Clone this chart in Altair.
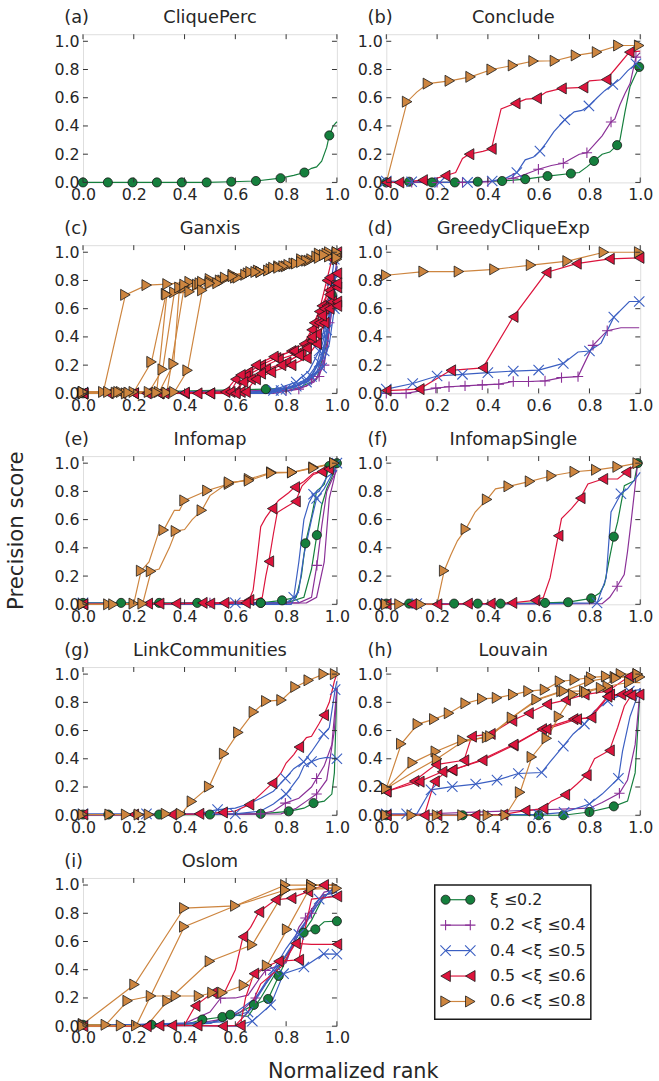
import altair as alt
import pandas as pd

FONT = "DejaVu Sans"
TXT = "#262626"
GROUPS = ["g", "p", "b", "r", "o"]
LABELS = ["ξ ≤0.2", "0.2 <ξ ≤0.4", "0.4 <ξ ≤0.5", "0.5 <ξ ≤0.6", "0.6 <ξ ≤0.8"]
COLORS = ["#157f3d", "#8a3097", "#3b5fc2", "#dc143c", "#cd853f"]
PLUS = "M-1,0H1M0,-1V1"
CROSS = "M-1,-1L1,1M-1,1L1,-1"
SHAPES = ["circle", PLUS, CROSS, "triangle-left", "triangle-right"]
TITLES = ["CliquePerc", "Conclude", "Ganxis", "GreedyCliqueExp", "Infomap",
          "InfomapSingle", "LinkCommunities", "Louvain", "Oslom"]
LETTERS = ["(a)", "(b)", "(c)", "(d)", "(e)", "(f)", "(g)", "(h)", "(i)"]
TICKS = [0.0, 0.2, 0.4, 0.6, 0.8, 1.0]

# each series: (group, [(x, y, marker?), ...])
PANEL_A = [
    ("g", [(0, 0, 1), (0.098, 0, 1), (0.195, 0, 1), (0.291, 0, 1), (0.389, 0, 1), (0.487, 0, 1),
           (0.584, 0.005, 1), (0.681, 0.01, 1), (0.778, 0.03, 1), (0.83, 0.05, 0), (0.872, 0.07, 1),
           (0.9, 0.1, 0), (0.92, 0.11, 0), (0.94, 0.15, 0), (0.96, 0.25, 0), (0.97, 0.333, 1),
           (0.985, 0.4, 0), (1.0, 0.43, 0)]),
]

PANEL_B = [
    ("g", [(0, 0, 1), (0.09, 0.005, 1), (0.18, 0, 1), (0.27, 0, 1), (0.36, 0.005, 1), (0.456, 0.01, 1),
           (0.547, 0.023, 1), (0.635, 0.045, 1), (0.727, 0.063, 1), (0.76, 0.07, 0), (0.79, 0.11, 0),
           (0.818, 0.152, 1), (0.85, 0.2, 0), (0.88, 0.215, 0), (0.909, 0.264, 1), (0.92, 0.3, 0),
           (0.94, 0.5, 0), (0.96, 0.68, 0), (0.98, 0.76, 0), (0.996, 0.818, 1)]),
    ("p", [(0, 0, 1), (0.1, 0, 1), (0.2, 0, 1), (0.3, 0, 1), (0.4, 0.005, 1), (0.5, 0.03, 1),
           (0.55, 0.06, 0), (0.599, 0.093, 1), (0.65, 0.12, 0), (0.697, 0.136, 1), (0.73, 0.17, 0),
           (0.76, 0.2, 0), (0.79, 0.21, 1), (0.82, 0.27, 0), (0.85, 0.33, 0), (0.885, 0.428, 1),
           (0.9, 0.45, 0), (0.92, 0.55, 0), (0.94, 0.63, 0), (0.96, 0.7, 0), (0.983, 0.888, 1),
           (1.0, 0.92, 0)]),
    ("b", [(0, 0.01, 1), (0.1, 0.005, 1), (0.21, 0, 1), (0.32, 0, 1), (0.417, 0.01, 1), (0.47, 0.03, 0),
           (0.514, 0.07, 1), (0.547, 0.16, 0), (0.58, 0.18, 0), (0.605, 0.222, 1), (0.63, 0.28, 0),
           (0.66, 0.36, 0), (0.703, 0.444, 1), (0.74, 0.5, 0), (0.77, 0.51, 0), (0.798, 0.542, 1),
           (0.83, 0.6, 0), (0.86, 0.65, 0), (0.892, 0.694, 1), (0.92, 0.73, 0), (0.95, 0.79, 0),
           (0.983, 0.841, 1), (1.0, 0.85, 0)]),
    ("r", [(0, 0, 1), (0.05, 0, 1), (0.143, 0.016, 1), (0.2, 0.03, 0), (0.232, 0.047, 1), (0.273, 0.07, 0),
           (0.3, 0.17, 0), (0.326, 0.2, 1), (0.38, 0.22, 0), (0.414, 0.238, 1), (0.452, 0.521, 0),
           (0.508, 0.56, 1), (0.55, 0.59, 0), (0.592, 0.596, 1), (0.63, 0.64, 0), (0.69, 0.666, 1),
           (0.775, 0.673, 1), (0.8, 0.72, 0), (0.866, 0.729, 1), (0.9, 0.8, 0), (0.957, 0.923, 1),
           (1.0, 0.93, 0)]),
    ("o", [(0, 0, 0), (0.082, 0.572, 1), (0.12, 0.64, 0), (0.164, 0.70, 1), (0.25, 0.72, 1),
           (0.332, 0.748, 1), (0.415, 0.8, 1), (0.499, 0.829, 1), (0.58, 0.86, 1), (0.664, 0.862, 1),
           (0.747, 0.9, 1), (0.83, 0.923, 1), (0.914, 0.97, 1), (0.996, 0.97, 1)]),
]

PANEL_C = [
    ("g", [(0, 0, 1), (0.72, 0.03, 1), (0.85, 0.04, 0), (0.92, 0.1, 0), (0.96, 0.35, 0), (0.98, 0.7, 1),
           (1.0, 0.9, 0)]),
    ("p", [(0, 0, 0), (0.7, 0.01, 0), (0.8, 0.02, 1), (0.88, 0.05, 0), (0.93, 0.12, 1), (0.96, 0.3, 0),
           (0.98, 0.6, 1), (1.0, 0.9, 0)]),
    ("p", [(0, 0, 0), (0.75, 0, 0), (0.85, 0.03, 1), (0.91, 0.08, 0), (0.95, 0.2, 1), (0.97, 0.45, 0),
           (0.99, 0.75, 1), (1.0, 0.8, 0)]),
    ("p", [(0, 0, 0), (0.7, 0.02, 0), (0.82, 0.04, 0), (0.9, 0.1, 1), (0.94, 0.2, 0), (0.97, 0.5, 1),
           (1.0, 0.95, 0)]),
    ("b", [(0, 0.01, 1), (0.3, 0.01, 0), (0.65, 0.01, 0), (0.75, 0.02, 1), (0.82, 0.05, 0), (0.88, 0.1, 1),
           (0.92, 0.2, 0), (0.95, 0.4, 1), (0.97, 0.7, 0), (0.99, 0.95, 1), (1.0, 0.98, 0)]),
    ("b", [(0, 0.005, 0), (0.7, 0, 0), (0.8, 0.03, 1), (0.86, 0.07, 0), (0.9, 0.12, 1), (0.94, 0.25, 0),
           (0.96, 0.45, 1), (0.98, 0.7, 0), (1.0, 0.75, 1)]),
    ("b", [(0, 0, 0), (0.72, 0, 0), (0.82, 0.04, 0), (0.88, 0.08, 1), (0.92, 0.15, 0), (0.95, 0.3, 1),
           (0.97, 0.55, 0), (0.985, 0.8, 1), (1.0, 0.85, 0)]),
    ("b", [(0, 0, 0), (0.68, 0, 0), (0.78, 0.02, 1), (0.85, 0.06, 0), (0.9, 0.13, 0), (0.93, 0.22, 1),
           (0.96, 0.4, 0), (0.98, 0.62, 1), (1.0, 0.65, 0)]),
    ("b", [(0, 0, 0), (0.74, 0, 0), (0.84, 0.05, 1), (0.9, 0.1, 0), (0.94, 0.18, 1), (0.97, 0.35, 0),
           (0.99, 0.6, 1), (1.0, 0.7, 0)]),
    ("b", [(0, 0, 0), (0.66, 0, 0), (0.76, 0.03, 0), (0.84, 0.08, 1), (0.89, 0.16, 0), (0.93, 0.3, 1),
           (0.96, 0.55, 0), (0.98, 0.8, 1), (1.0, 0.9, 0)]),
    ("r", [(0, 0, 1), (0.1, 0, 1), (0.2, 0, 1), (0.3, 0, 1), (0.4, 0, 1), (0.5, 0, 1), (0.56, 0.01, 1),
           (0.6, 0.1, 1), (0.65, 0.15, 1), (0.7, 0.2, 1), (0.76, 0.25, 1), (0.82, 0.3, 1), (0.87, 0.35, 1),
           (0.9, 0.45, 1), (0.93, 0.58, 1), (0.96, 0.8, 1), (0.98, 0.95, 1), (1.0, 1.0, 1)]),
    ("r", [(0, 0, 1), (0.15, 0, 1), (0.3, 0, 1), (0.45, 0, 1), (0.6, 0.01, 1), (0.64, 0.12, 1),
           (0.7, 0.18, 1), (0.77, 0.24, 1), (0.84, 0.28, 1), (0.88, 0.33, 1), (0.91, 0.5, 1),
           (0.94, 0.62, 1), (0.97, 0.73, 1), (1.0, 0.75, 1)]),
    ("r", [(0, 0, 1), (0.2, 0, 1), (0.4, 0.005, 1), (0.62, 0.01, 1), (0.66, 0.1, 1), (0.72, 0.17, 1),
           (0.8, 0.22, 1), (0.86, 0.28, 1), (0.9, 0.37, 1), (0.93, 0.5, 1), (0.96, 0.62, 1),
           (0.98, 0.65, 1), (1.0, 0.65, 1)]),
    ("r", [(0, 0, 1), (0.25, 0, 1), (0.5, 0, 1), (0.58, 0.01, 1), (0.62, 0.13, 1), (0.68, 0.2, 1),
           (0.75, 0.26, 1), (0.83, 0.3, 1), (0.88, 0.32, 1), (0.92, 0.42, 1), (0.95, 0.6, 1),
           (0.97, 0.82, 1), (1.0, 0.85, 1)]),
    ("r", [(0, 0, 1), (0.32, 0, 1), (0.64, 0.01, 1), (0.68, 0.1, 1), (0.74, 0.15, 1), (0.82, 0.2, 1),
           (0.88, 0.25, 1), (0.92, 0.35, 1), (0.95, 0.5, 1), (0.97, 0.6, 1), (1.0, 0.62, 1)]),
    ("r", [(0, 0, 1), (0.3, 0, 1), (0.6, 0, 1), (0.63, 0.08, 1), (0.7, 0.14, 1), (0.78, 0.2, 1),
           (0.85, 0.27, 1), (0.9, 0.4, 1), (0.94, 0.55, 1), (0.97, 0.7, 1), (1.0, 0.78, 1)]),
    ("o", [(0, 0.01, 1), (0.08, 0.01, 1), (0.167, 0.698, 1), (0.251, 0.767, 1), (0.333, 0.774, 1),
           (0.42, 0.79, 1), (0.5, 0.81, 1), (0.59, 0.84, 1), (0.69, 0.87, 1), (0.77, 0.9, 1),
           (0.86, 0.95, 1), (0.93, 0.99, 1), (1.0, 1.0, 1)]),
    ("o", [(0, 0.01, 1), (0.1, 0.01, 1), (0.2, 0.01, 1), (0.27, 0.223, 1), (0.327, 0.705, 1),
           (0.4, 0.75, 1), (0.5, 0.79, 1), (0.6, 0.82, 1), (0.7, 0.86, 1), (0.8, 0.9, 1), (0.9, 0.95, 1),
           (0.97, 1.0, 1), (1.0, 0.99, 1)]),
    ("o", [(0, 0, 1), (0.13, 0.005, 1), (0.26, 0.01, 1), (0.314, 0.17, 1), (0.36, 0.716, 1),
           (0.45, 0.77, 1), (0.55, 0.8, 1), (0.65, 0.85, 1), (0.74, 0.88, 1), (0.83, 0.92, 1),
           (0.92, 0.97, 1), (1.0, 0.97, 1)]),
    ("o", [(0, 0, 1), (0.15, 0.01, 1), (0.3, 0.01, 1), (0.357, 0.209, 1), (0.38, 0.75, 1),
           (0.46, 0.78, 1), (0.54, 0.8, 1), (0.64, 0.84, 1), (0.73, 0.87, 1), (0.81, 0.91, 1),
           (0.89, 0.94, 1), (0.97, 0.97, 1), (1.0, 0.95, 1)]),
    ("o", [(0, 0, 1), (0.17, 0, 1), (0.33, 0.005, 1), (0.4, 0.77, 1), (0.47, 0.79, 1), (0.56, 0.82, 1),
           (0.66, 0.86, 1), (0.75, 0.89, 1), (0.84, 0.92, 1), (0.93, 0.96, 1), (1.0, 0.98, 1)]),
    ("o", [(0, 0, 1), (0.18, 0.005, 1), (0.36, 0.01, 1), (0.412, 0.163, 1), (0.47, 0.73, 1),
           (0.53, 0.78, 1), (0.61, 0.82, 1), (0.7, 0.86, 1), (0.79, 0.9, 1), (0.88, 0.94, 1),
           (0.96, 0.99, 1), (1.0, 1.0, 1)]),
    ("o", [(0, 0.01, 1), (0.14, 0.01, 1), (0.29, 0.005, 1), (0.33, 0.7, 1), (0.42, 0.72, 1),
           (0.5, 0.78, 1), (0.59, 0.83, 1), (0.68, 0.86, 1), (0.77, 0.89, 1), (0.86, 0.93, 1),
           (0.95, 0.98, 1), (1.0, 0.96, 1)]),
]

PANEL_D = [
    ("p", [(0, 0, 1), (0.078, 0.0, 1), (0.195, 0.037, 1), (0.247, 0.047, 1), (0.31, 0.053, 1),
           (0.378, 0.06, 1), (0.443, 0.065, 1), (0.5, 0.084, 1), (0.56, 0.084, 1), (0.625, 0.088, 1),
           (0.69, 0.112, 1), (0.755, 0.119, 1), (0.814, 0.34, 1), (0.87, 0.444, 1), (0.924, 0.465, 0),
           (0.996, 0.465, 0)]),
    ("b", [(0, 0.03, 1), (0.104, 0.07, 1), (0.2, 0.123, 1), (0.3, 0.135, 1), (0.4, 0.147, 1),
           (0.5, 0.158, 1), (0.6, 0.165, 1), (0.697, 0.212, 1), (0.755, 0.293, 0), (0.8, 0.3, 1),
           (0.846, 0.356, 0), (0.896, 0.54, 1), (0.957, 0.651, 0), (0.996, 0.651, 1)]),
    ("r", [(0, 0.02, 1), (0.13, 0.03, 1), (0.254, 0.163, 1), (0.38, 0.181, 1), (0.5, 0.542, 1),
           (0.63, 0.856, 1), (0.749, 0.919, 1), (0.879, 0.953, 1), (0.996, 0.96, 1)]),
    ("o", [(0, 0.837, 1), (0.147, 0.863, 1), (0.286, 0.863, 1), (0.426, 0.879, 1), (0.57, 0.909, 1),
           (0.714, 0.937, 1), (0.857, 1.0, 1), (0.996, 1.0, 1)]),
]

PANEL_E = [
    ("g", [(0, 0.01, 1), (0.15, 0.01, 1), (0.3, 0.01, 1), (0.45, 0.01, 1), (0.7, 0.01, 1),
           (0.784, 0.028, 1), (0.84, 0.05, 0), (0.86, 0.2, 0), (0.876, 0.432, 1), (0.9, 0.62, 0),
           (0.92, 0.8, 0), (0.95, 0.85, 0), (0.97, 0.98, 1), (1.0, 1.0, 0)]),
    ("g", [(0, 0, 0), (0.7, 0.01, 1), (0.8, 0.01, 0), (0.87, 0.05, 0), (0.9, 0.25, 0), (0.921, 0.49, 1),
           (0.94, 0.7, 0), (0.96, 0.82, 0), (0.98, 0.9, 0), (1.0, 1.0, 1)]),
    ("p", [(0, 0, 0), (0.5, 0.01, 1), (0.85, 0.01, 0), (0.9, 0.05, 0), (0.921, 0.276, 1), (0.94, 0.55, 0),
           (0.96, 0.8, 0), (0.98, 0.88, 0), (1.0, 0.95, 0)]),
    ("p", [(0, 0, 0), (0.88, 0.01, 0), (0.92, 0.05, 0), (0.95, 0.3, 0), (0.97, 0.75, 0), (0.99, 0.9, 0),
           (1.0, 1.0, 0)]),
    ("b", [(0, 0.01, 1), (0.3, 0.005, 0), (0.6, 0.01, 1), (0.8, 0.01, 0), (0.83, 0.05, 1), (0.85, 0.3, 0),
           (0.87, 0.6, 0), (0.89, 0.72, 0), (0.908, 0.78, 1), (0.93, 0.8, 0), (0.96, 0.9, 0),
           (1.0, 0.95, 0)]),
    ("b", [(0, 0, 0), (0.82, 0.0, 0), (0.85, 0.1, 0), (0.87, 0.35, 0), (0.9, 0.6, 0), (0.92, 0.75, 1),
           (0.95, 0.82, 0), (0.98, 0.92, 0), (1.0, 1.0, 1)]),
    ("r", [(0, 0, 1), (0.255, 0.005, 1), (0.366, 0.005, 1), (0.47, 0.01, 1), (0.556, 0.01, 1),
           (0.654, 0.03, 1), (0.67, 0.1, 0), (0.686, 0.33, 0), (0.7, 0.55, 0), (0.719, 0.612, 0),
           (0.745, 0.678, 1), (0.77, 0.736, 0), (0.81, 0.79, 0), (0.834, 0.83, 1), (0.87, 0.87, 0),
           (0.908, 0.93, 0), (0.94, 0.94, 1), (1.0, 1.0, 0)]),
    ("r", [(0, 0, 1), (0.3, 0.005, 1), (0.5, 0.005, 1), (0.64, 0.01, 1), (0.706, 0.05, 0),
           (0.72, 0.2, 0), (0.732, 0.304, 1), (0.75, 0.5, 0), (0.765, 0.65, 0), (0.8, 0.69, 0),
           (0.837, 0.729, 1), (0.863, 0.84, 0), (0.908, 0.92, 0), (0.967, 0.958, 1), (1.0, 1.0, 0)]),
    ("o", [(0, 0, 1), (0.1, 0, 1), (0.2, 0.005, 1), (0.229, 0.238, 1), (0.26, 0.3, 0), (0.3, 0.52, 0),
           (0.318, 0.526, 1), (0.34, 0.6, 0), (0.36, 0.666, 0), (0.38, 0.666, 0), (0.4, 0.736, 1),
           (0.49, 0.806, 1), (0.575, 0.853, 1), (0.654, 0.888, 1), (0.742, 0.935, 1), (0.824, 0.935, 1),
           (0.908, 0.97, 1), (0.99, 1.0, 1)]),
    ("o", [(0, 0, 1), (0.12, 0, 1), (0.235, 0.005, 1), (0.268, 0.234, 1), (0.3, 0.25, 0), (0.34, 0.4, 0),
           (0.366, 0.519, 1), (0.4, 0.53, 0), (0.43, 0.6, 0), (0.468, 0.666, 1), (0.5, 0.77, 0),
           (0.575, 0.864, 1), (0.654, 0.876, 1), (0.742, 0.93, 1), (0.824, 0.935, 1), (0.908, 0.965, 1),
           (0.99, 1.0, 1)]),
]

PANEL_F = [
    ("g", [(0, 0.005, 1), (0.09, 0.005, 1), (0.267, 0.005, 1), (0.36, 0.005, 1), (0.45, 0.005, 1),
           (0.625, 0.01, 1), (0.716, 0.015, 1), (0.807, 0.042, 1), (0.84, 0.08, 0), (0.859, 0.14, 0),
           (0.879, 0.327, 0), (0.896, 0.479, 1), (0.911, 0.584, 0), (0.9375, 0.84, 0), (0.977, 0.876, 0),
           (0.99, 1.0, 1)]),
    ("p", [(0, 0, 0), (0.85, 0.005, 0), (0.88, 0.05, 0), (0.909, 0.128, 1), (0.937, 0.21, 0),
           (0.95, 0.374, 0), (0.964, 0.584, 0), (0.983, 0.888, 0), (0.99, 1.0, 0)]),
    ("b", [(0, 0.005, 1), (0.12, 0.005, 1), (0.3, 0.005, 0), (0.6, 0.005, 0), (0.83, 0.01, 1),
           (0.866, 0.187, 0), (0.885, 0.654, 0), (0.924, 0.783, 1), (0.95, 0.818, 0), (1.0, 0.935, 0)]),
    ("r", [(0, 0, 1), (0.1, 0, 1), (0.2, 0, 1), (0.32, 0.005, 1), (0.41, 0.005, 1), (0.495, 0.01, 1),
           (0.586, 0.028, 1), (0.618, 0.047, 0), (0.645, 0.187, 0), (0.677, 0.486, 1), (0.69, 0.607, 0),
           (0.729, 0.678, 0), (0.764, 0.752, 1), (0.794, 0.853, 0), (0.853, 0.888, 1), (0.911, 0.888, 0),
           (0.944, 0.935, 1), (0.99, 1.0, 0)]),
    ("o", [(0, 0, 1), (0.052, 0, 1), (0.137, 0, 1), (0.2, 0.005, 0), (0.228, 0.238, 1), (0.254, 0.35, 0),
           (0.28, 0.45, 0), (0.313, 0.533, 1), (0.35, 0.654, 0), (0.397, 0.743, 1), (0.43, 0.818, 0),
           (0.482, 0.836, 1), (0.566, 0.871, 1), (0.651, 0.911, 1), (0.742, 0.939, 1), (0.827, 0.953, 1),
           (0.911, 0.974, 1), (0.99, 1.0, 1)]),
]

PANEL_G = [
    ("g", [(0, 0.005, 1), (0.1, 0.005, 1), (0.3, 0.005, 1), (0.5, 0.005, 1), (0.7, 0.01, 1),
           (0.81, 0.028, 1), (0.87, 0.05, 0), (0.908, 0.086, 1), (0.95, 0.1, 0), (0.98, 0.15, 0),
           (0.99, 0.3, 0), (1.0, 0.9, 0)]),
    ("p", [(0, 0, 0), (0.7, 0.01, 1), (0.75, 0.03, 0), (0.797, 0.086, 1), (0.85, 0.12, 0), (0.9, 0.2, 0),
           (0.92, 0.26, 1), (0.95, 0.35, 0), (0.98, 0.5, 0), (1.0, 0.9, 0)]),
    ("p", [(0, 0, 0), (0.78, 0.01, 0), (0.84, 0.05, 0), (0.88, 0.1, 0), (0.92, 0.15, 1), (0.96, 0.25, 0),
           (0.99, 0.6, 0), (1.0, 0.9, 0)]),
    ("b", [(0, 0.01, 1), (0.25, 0.01, 1), (0.45, 0.01, 0), (0.53, 0.04, 1), (0.6, 0.05, 0), (0.65, 0.08, 0),
           (0.7, 0.12, 0), (0.75, 0.17, 0), (0.797, 0.261, 1), (0.83, 0.33, 0), (0.869, 0.378, 1),
           (0.9, 0.45, 0), (0.948, 0.576, 1), (0.97, 0.62, 0), (0.993, 0.89, 1), (1.0, 0.95, 0)]),
    ("b", [(0, 0, 0), (0.6, 0.01, 1), (0.7, 0.03, 0), (0.75, 0.08, 0), (0.8, 0.15, 1), (0.85, 0.27, 0),
           (0.87, 0.35, 0), (0.9, 0.38, 1), (0.93, 0.4, 0), (0.96, 0.41, 0), (1.0, 0.4, 1)]),
    ("r", [(0, 0.005, 1), (0.2, 0.005, 1), (0.35, 0.005, 1), (0.457, 0.01, 1), (0.55, 0.02, 1),
           (0.6, 0.03, 0), (0.654, 0.075, 1), (0.7, 0.15, 0), (0.745, 0.226, 1), (0.78, 0.3, 0),
           (0.8, 0.37, 0), (0.83, 0.43, 0), (0.85, 0.483, 1), (0.88, 0.55, 0), (0.9, 0.56, 0),
           (0.93, 0.65, 0), (0.948, 0.709, 1), (0.97, 0.8, 0), (0.99, 0.95, 0), (1.0, 1.0, 0)]),
    ("o", [(0, 0.005, 1), (0.105, 0.005, 1), (0.17, 0.005, 1), (0.22, 0.005, 1), (0.26, 0.005, 1),
           (0.327, 0.01, 1), (0.386, 0.01, 1), (0.429, 0.098, 1), (0.497, 0.203, 1), (0.556, 0.436, 1),
           (0.612, 0.587, 1), (0.673, 0.732, 1), (0.722, 0.809, 1), (0.782, 0.816, 1), (0.837, 0.909, 1),
           (0.889, 0.956, 1), (0.948, 1.0, 1), (0.993, 1.0, 1)]),
]

PANEL_H = [
    ("g", [(0, 0, 1), (0.3, 0, 1), (0.6, 0, 1), (0.697, 0.0, 1), (0.8, 0.023, 1), (0.896, 0.063, 1),
           (0.95, 0.1, 0), (0.98, 0.3, 0), (0.99, 0.6, 0), (1.0, 0.9, 0)]),
    ("p", [(0, 0, 0), (0.8, 0.05, 0), (0.85, 0.09, 0), (0.918, 0.156, 1), (0.95, 0.25, 0), (0.98, 0.5, 0),
           (1.0, 0.9, 0)]),
    ("b", [(0, 0.01, 1), (0.08, 0.01, 1), (0.12, 0.01, 0), (0.156, 0.12, 0), (0.176, 0.18, 1),
           (0.26, 0.203, 1), (0.352, 0.221, 1), (0.436, 0.249, 1), (0.52, 0.296, 1), (0.612, 0.303, 1),
           (0.645, 0.378, 0), (0.697, 0.49, 1), (0.736, 0.576, 0), (0.78, 0.646, 1), (0.82, 0.739, 0),
           (0.872, 0.809, 1), (0.957, 0.879, 1), (1.0, 0.89, 0)]),
    ("b", [(0, 0, 0), (0.6, 0.005, 1), (0.7, 0.02, 1), (0.8, 0.08, 1), (0.85, 0.15, 0), (0.914, 0.261, 1),
           (0.93, 0.45, 0), (0.96, 0.7, 0), (0.98, 0.8, 0), (1.0, 0.9, 0)]),
    ("r", [(0, 0.168, 1), (0.11, 0.242, 1), (0.195, 0.359, 1), (0.306, 0.389, 1), (0.336, 0.557, 1),
           (0.41, 0.576, 1), (0.495, 0.669, 1), (0.56, 0.723, 1), (0.632, 0.786, 1), (0.706, 0.816, 1),
           (0.78, 0.855, 1), (0.872, 0.879, 1), (0.957, 0.984, 1), (1.0, 0.98, 0)]),
    ("r", [(0, 0.168, 1), (0.13, 0.238, 1), (0.22, 0.308, 1), (0.258, 0.319, 1), (0.378, 0.389, 1),
           (0.5, 0.494, 1), (0.612, 0.61, 1), (0.736, 0.681, 1), (0.807, 0.692, 1), (0.88, 0.855, 1),
           (0.924, 0.855, 1), (0.996, 0.855, 1)]),
    ("r", [(0, 0, 1), (0.15, 0, 1), (0.19, 0.24, 1), (0.23, 0.3, 0), (0.26, 0.32, 1), (0.37, 0.39, 0),
           (0.5, 0.5, 1), (0.6, 0.6, 0), (0.63, 0.61, 1), (0.75, 0.68, 1), (0.8, 0.69, 0), (0.87, 0.84, 1),
           (0.95, 0.86, 1), (1.0, 0.85, 0)]),
    ("r", [(0, 0, 1), (0.2, 0, 1), (0.35, 0, 1), (0.46, 0.005, 1), (0.547, 0.033, 1), (0.618, 0.047, 1),
           (0.65, 0.1, 0), (0.703, 0.145, 1), (0.75, 0.22, 0), (0.788, 0.284, 1), (0.82, 0.4, 0),
           (0.879, 0.459, 1), (0.911, 0.622, 0), (0.9375, 0.774, 0), (0.964, 0.848, 1), (0.996, 0.843, 0)]),
    ("o", [(0, 0.19, 1), (0.059, 0.506, 1), (0.124, 0.646, 1), (0.189, 0.681, 1), (0.247, 0.723, 1),
           (0.3125, 0.793, 1), (0.378, 0.825, 1), (0.436, 0.832, 1), (0.5, 0.855, 1), (0.56, 0.879, 1),
           (0.625, 0.89, 1), (0.684, 0.949, 1), (0.742, 0.96, 1), (0.807, 0.977, 1), (0.866, 0.984, 1),
           (0.924, 1.0, 1), (0.99, 1.0, 1)]),
    ("o", [(0, 0.19, 1), (0.104, 0.373, 1), (0.195, 0.452, 1), (0.3, 0.53, 1), (0.397, 0.552, 1),
           (0.495, 0.692, 1), (0.592, 0.82, 1), (0.69, 0.879, 1), (0.78, 0.879, 1), (0.872, 0.914, 1),
           (0.957, 0.942, 1), (1.0, 0.94, 0)]),
    ("o", [(0, 0.19, 0), (0.1, 0.3, 0), (0.2, 0.4, 1), (0.3, 0.52, 0), (0.41, 0.56, 1), (0.5, 0.7, 0),
           (0.6, 0.82, 0), (0.7, 0.88, 1), (0.8, 0.95, 1), (0.9, 0.98, 1), (1.0, 0.98, 1)]),
    ("o", [(0, 0, 1), (0.1, 0, 1), (0.2, 0, 1), (0.3, 0, 1), (0.4, 0, 1), (0.47, 0, 1), (0.527, 0.163, 1),
           (0.573, 0.413, 1), (0.632, 0.545, 1), (0.68, 0.7, 1), (0.736, 0.855, 1), (0.788, 0.872, 1),
           (0.846, 0.902, 1), (0.905, 0.972, 1), (0.99, 1.0, 1)]),
]

PANEL_I = [
    ("g", [(0, 0.01, 1), (0.27, 0.01, 1), (0.4, 0.01, 0), (0.47, 0.047, 1), (0.549, 0.065, 1),
           (0.6, 0.08, 0), (0.673, 0.151, 1), (0.729, 0.193, 1), (0.771, 0.356, 1), (0.82, 0.55, 0),
           (0.869, 0.663, 1), (0.915, 0.686, 1), (0.95, 0.74, 0), (1.0, 0.744, 1)]),
    ("g", [(0, 0, 0), (0.5, 0.02, 0), (0.58, 0.081, 1), (0.65, 0.07, 0), (0.7, 0.2, 0), (0.75, 0.35, 0),
           (0.8, 0.5, 0), (0.85, 0.62, 0), (0.9, 0.75, 0), (0.95, 0.93, 0), (1.0, 0.95, 0)]),
    ("p", [(0, 0, 0), (0.4, 0.02, 0), (0.5, 0.1, 0), (0.542, 0.198, 1), (0.6, 0.2, 0), (0.65, 0.22, 0),
           (0.7, 0.35, 0), (0.719, 0.395, 1), (0.8, 0.45, 0), (0.85, 0.7, 0), (0.876, 0.767, 1),
           (0.95, 0.95, 0), (1.0, 0.97, 0)]),
    ("p", [(0, 0, 0), (0.45, 0.02, 0), (0.55, 0.05, 0), (0.62, 0.1, 0), (0.68, 0.2, 1), (0.75, 0.38, 0),
           (0.82, 0.55, 0), (0.87, 0.72, 0), (0.9, 0.8, 1), (0.95, 0.93, 0), (1.0, 0.95, 0)]),
    ("b", [(0, 0.005, 1), (0.3, 0.005, 0), (0.6, 0.0, 0), (0.667, 0.035, 1), (0.739, 0.151, 1),
           (0.78, 0.33, 0), (0.79, 0.372, 1), (0.87, 0.419, 1), (0.948, 0.512, 1), (1.0, 0.51, 1)]),
    ("b", [(0, 0, 0), (0.5, 0.02, 0), (0.65, 0.1, 1), (0.72, 0.3, 0), (0.78, 0.45, 0), (0.85, 0.65, 1),
           (0.92, 0.85, 0), (0.97, 0.95, 1), (1.0, 0.95, 0)]),
    ("b", [(0, 0, 0), (0.55, 0.03, 0), (0.68, 0.2, 0), (0.75, 0.4, 1), (0.8, 0.55, 0), (0.88, 0.75, 0),
           (0.93, 0.9, 1), (1.0, 0.93, 0)]),
    ("r", [(0, 0, 1), (0.15, 0, 0), (0.25, 0.0, 1), (0.35, 0.005, 1), (0.4, 0.01, 0), (0.442, 0.144, 1),
           (0.51, 0.237, 1), (0.56, 0.25, 0), (0.6, 0.4, 0), (0.63, 0.633, 1), (0.66, 0.7, 0),
           (0.693, 0.809, 1), (0.758, 0.895, 1), (0.82, 0.907, 1), (0.886, 0.953, 1), (0.948, 1.0, 1),
           (1.0, 1.0, 0)]),
    ("r", [(0, 0, 0), (0.3, 0.005, 1), (0.45, 0.005, 1), (0.55, 0.0, 1), (0.62, 0.005, 1), (0.64, 0.2, 0),
           (0.673, 0.372, 1), (0.72, 0.42, 0), (0.77, 0.46, 1), (0.85, 0.47, 1), (0.87, 0.65, 0),
           (0.9, 0.9, 0), (1.0, 0.92, 1)]),
    ("r", [(0, 0, 0), (0.6, 0.005, 0), (0.65, 0.1, 0), (0.7, 0.3, 0), (0.78, 0.42, 0), (0.837, 0.586, 1),
           (0.9, 0.58, 0), (1.0, 0.58, 1)]),
    ("o", [(0, 0.016, 1), (0.203, 0.295, 1), (0.399, 0.837, 1), (0.6, 0.853, 1), (0.797, 1.0, 1),
           (0.9, 1.0, 1), (1.0, 1.0, 0)]),
    ("o", [(0, 0.01, 1), (0.09, 0.01, 1), (0.176, 0.18, 1), (0.268, 0.214, 1), (0.366, 0.214, 1),
           (0.457, 0.214, 1), (0.51, 0.237, 1), (0.55, 0.237, 1), (0.634, 0.29, 1), (0.725, 0.43, 1),
           (0.804, 0.686, 1), (0.9, 1.0, 1), (1.0, 1.0, 0)]),
    ("o", [(0, 0, 1), (0.1, 0, 0), (0.21, 0.005, 1), (0.399, 0.705, 1), (0.6, 0.853, 0), (0.797, 0.965, 1),
           (1.0, 0.977, 1)]),
    ("o", [(0, 0, 0), (0.15, 0.005, 1), (0.25, 0.0, 0), (0.333, 0.18, 1), (0.5, 0.46, 1),
           (0.667, 0.577, 1), (0.797, 0.965, 1), (0.9, 0.98, 1), (1.0, 0.98, 0)]),
]

PANELS = [PANEL_A, PANEL_B, PANEL_C, PANEL_D, PANEL_E, PANEL_F, PANEL_G, PANEL_H, PANEL_I]

W, H = 257, 150
COLSCALE = alt.Scale(domain=[0, 1, 2, 3, 4], range=COLORS)
SHAPESCALE = alt.Scale(domain=[0, 1, 2, 3, 4], range=SHAPES)


def build_df(series):
    recs = []
    order = sorted(range(len(series)), key=lambda i: GROUPS.index(series[i][0]))
    for sid, i in enumerate(order):
        grp, pts = series[i]
        gi = GROUPS.index(grp)
        for k, (x, y, m) in enumerate(pts):
            recs.append({"s": sid, "gi": gi, "x": x, "y": y, "m": m, "k": k})
    return pd.DataFrame(recs)


def marker_layers(df, xenc, yenc):
    circ = df[df.gi == 0]
    strk = df[df.gi.isin([1, 2])]
    tri = df[df.gi.isin([3, 4])]
    l1 = alt.Chart(circ).mark_point(filled=True, size=85, stroke="#1a1a1a", strokeWidth=0.8,
                                    opacity=1).encode(
        x=xenc, y=yenc,
        shape=alt.Shape("gi:N", scale=SHAPESCALE, legend=None),
        fill=alt.Fill("gi:N", scale=COLSCALE, legend=None))
    l2 = alt.Chart(strk).mark_point(filled=False, size=110, strokeWidth=1.1, opacity=1).encode(
        x=xenc, y=yenc,
        shape=alt.Shape("gi:N", scale=SHAPESCALE, legend=None),
        stroke=alt.Stroke("gi:N", scale=COLSCALE, legend=None))
    l3 = alt.Chart(tri).mark_point(filled=True, size=125, stroke="#1a1a1a", strokeWidth=0.8,
                                   opacity=1).encode(
        x=xenc, y=yenc,
        shape=alt.Shape("gi:N", scale=SHAPESCALE, legend=None),
        fill=alt.Fill("gi:N", scale=COLSCALE, legend=None))
    return [l1, l2, l3]


def make_panel(idx):
    df = build_df(PANELS[idx])
    mk = df[df.m == 1]
    xs = alt.Scale(domain=[0, 1], nice=False, zero=False)
    ys = alt.Scale(domain=[0, 1.05], nice=False, zero=False)
    xax = dict(values=TICKS, format=".1f", labelFontSize=16, labelFont=FONT, labelColor=TXT,
               ticks=False, domain=False, grid=False, labelPadding=4, labelFlush=False,
               labelOverlap=False, title=None)
    yax = dict(values=TICKS, format=".1f", labelFontSize=16, labelFont=FONT, labelColor=TXT,
               ticks=False, domain=False, grid=False, labelPadding=4, labelFlush=False,
               labelOverlap=False, title=None)
    if idx == 8:
        xax.update(title="Normalized rank", titleFontSize=21, titleFont=FONT, titleColor=TXT,
                   titleFontWeight="normal", titleX=273, titleY=52, titleAlign="center",
                   titleBaseline="alphabetic")
    if idx == 4:
        yax.update(title="Precision score", titleFontSize=21.5, titleFont=FONT, titleColor=TXT,
                   titleFontWeight="normal", titlePadding=27)

    def X(f):
        return alt.X(f, type="quantitative", scale=xs, axis=alt.Axis(**xax))

    def Y(f):
        return alt.Y(f, type="quantitative", scale=ys, axis=alt.Axis(**yax))

    lines = alt.Chart(df).mark_line(strokeWidth=1.2).encode(
        x=X("x"), y=Y("y"),
        color=alt.Color("gi:N", scale=COLSCALE, legend=None),
        detail="s:N", order="k:Q")
    marks = marker_layers(mk, X("x"), Y("y"))

    tdf = pd.DataFrame({"v": TICKS})
    tick_color = "#333333"
    t1 = alt.Chart(tdf).mark_rule(color=tick_color, strokeWidth=1).encode(
        x=X("v"), y=alt.value(H), y2=alt.value(H - 5))
    t2 = alt.Chart(tdf).mark_rule(color=tick_color, strokeWidth=1).encode(
        x=X("v"), y=alt.value(0), y2=alt.value(5))
    t3 = alt.Chart(tdf).mark_rule(color=tick_color, strokeWidth=1).encode(
        y=Y("v"), x=alt.value(0), x2=alt.value(5))
    t4 = alt.Chart(tdf).mark_rule(color=tick_color, strokeWidth=1).encode(
        y=Y("v"), x=alt.value(W), x2=alt.value(W - 5))

    ttl = alt.Chart(pd.DataFrame({"t": [TITLES[idx]]})).mark_text(
        align="center", baseline="alphabetic", fontSize=18, font=FONT, color=TXT).encode(
        x=alt.value(W / 2), y=alt.value(-11), text="t:N")
    let = alt.Chart(pd.DataFrame({"t": [LETTERS[idx]]})).mark_text(
        align="left", baseline="alphabetic", fontSize=18, font=FONT, color=TXT).encode(
        x=alt.value(-19), y=alt.value(-11), text="t:N")

    return alt.layer(lines, *marks, t1, t2, t3, t4, ttl, let).properties(width=W, height=H)


def make_legend():
    box = alt.Chart(pd.DataFrame({"a": [0]})).mark_rect(
        fill="white", stroke="#1a1a1a", strokeWidth=1.5).encode(
        x=alt.value(49), x2=alt.value(207), y=alt.value(7), y2=alt.value(143))
    ldf = pd.DataFrame({"row": list(range(5)), "gi": list(range(5)), "label": LABELS})
    yenc = alt.Y("row:Q", scale=alt.Scale(domain=[0, 4], range=[22, 125]), axis=None)
    rule = alt.Chart(ldf).mark_rule(strokeWidth=1.2).encode(
        x=alt.value(60), x2=alt.value(85), y=yenc,
        color=alt.Color("gi:N", scale=COLSCALE, legend=None))
    left = marker_layers(ldf, alt.value(60), yenc)
    right = marker_layers(ldf, alt.value(85), yenc)
    txt = alt.Chart(ldf).mark_text(align="left", baseline="middle", fontSize=16, font=FONT,
                                   color=TXT).encode(
        x=alt.value(105), y=yenc, text="label:N")
    return alt.layer(box, rule, *left, *right, txt).properties(
        width=W, height=H, view=alt.ViewBackground(stroke="transparent"))


cells = [make_panel(i) for i in range(9)] + [make_legend()]

chart = alt.concat(*cells, columns=2, spacing=alt.RowColnumber(row=63.5, column=50),
                   bounds="flush").properties(
    padding=alt.Padding(left=5, top=2, right=5, bottom=5)).configure_view(
    stroke="#333333", strokeWidth=1.6).configure(font=FONT, background="white")

chart.save("out.html", embed_options={"renderer": "svg", "actions": False})
